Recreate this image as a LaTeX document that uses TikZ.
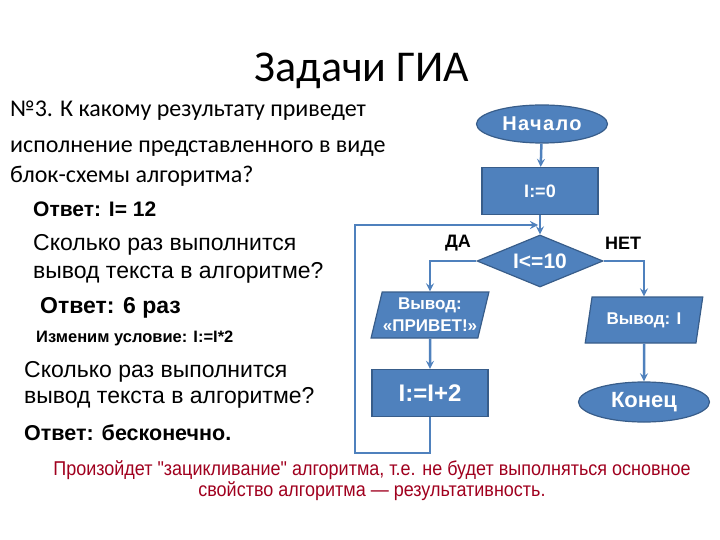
\documentclass[tikz,border=0pt]{standalone}
\usepackage{fontspec}
\setmainfont{Liberation Sans}
\newfontfamily\calibri{Carlito}
\newfontfamily\narrowfont[FakeStretch=0.9]{Liberation Sans}
\newfontfamily\spacedfont[LetterSpace=7]{Liberation Sans}
\usepackage{xcolor}
\usepackage{tikz}
\usetikzlibrary{shapes.geometric, arrows}

\definecolor{boxblue}{HTML}{4F81BD}
\definecolor{boxedge}{HTML}{385D8A}
\definecolor{loopred}{HTML}{A0001E}

\begin{document}
\begin{tikzpicture}[x=1pt, y=-1pt]
        % Define block styles with blue background
        \tikzstyle{startstop} = [ellipse, draw=boxedge, line width=1.2pt, fill=boxblue, inner sep=0pt,
                                 minimum width=131pt, minimum height=38pt, text=white, font=\bfseries\fontsize{22}{24}\selectfont]
        \tikzstyle{process} = [rectangle, draw=boxedge, line width=1.2pt, fill=boxblue,
                               minimum width=116pt, minimum height=47pt, text=white, font=\bfseries\fontsize{18}{20}\selectfont]
        \tikzstyle{decision} = [diamond, draw=boxedge, line width=1.2pt, fill=boxblue, aspect=2.4,
                                minimum width=126pt, minimum height=52pt, inner sep=0pt, text=white, font=\bfseries\fontsize{21}{22}\selectfont]
        \tikzstyle{io} = [trapezium, trapezium left angle=72, trapezium right angle=108, trapezium stretches=true,
                          draw=boxedge, line width=1.2pt, fill=boxblue, minimum width=118pt, minimum height=46pt, inner sep=0pt,
                          text=white, align=center, font=\bfseries\fontsize{17}{22}\selectfont]
        \tikzstyle{arrow} = [draw=boxblue, line width=2.5pt, ->, >=stealth]
        \tikzstyle{line} = [draw=boxblue, line width=2.5pt]
        \tikzstyle{textline} = [anchor=base west, inner sep=0pt]
        \tikzstyle{branch} = [font=\bfseries\fontsize{18}{20}\selectfont]

        \useasboundingbox (0,0) rectangle (720,540);

        % Title and question text
        \node (title) [anchor=base] at (362,82) {\calibri\fontsize{44}{50}\selectfont Задачи ГИА};
        \node (q1) [textline] at (10,117) {\calibri\fontsize{24}{26}\selectfont №3. К какому результату приведет};
        \node (q2) [textline] at (10,153) {\calibri\fontsize{24}{26}\selectfont исполнение представленного в виде};
        \node (q3) [textline] at (10,183) {\calibri\fontsize{24}{26}\selectfont блок-схемы алгоритма?};
        \node (a1) [textline] at (33,217) {\bfseries\fontsize{21}{24}\selectfont Ответ: I= 12};
        \node (q4) [textline] at (33,250) {\fontsize{23}{26}\selectfont Сколько раз выполнится};
        \node (q5) [textline] at (33,278) {\fontsize{23}{26}\selectfont вывод текста в алгоритме?};
        \node (a2) [textline] at (40,313) {\bfseries\fontsize{23}{26}\selectfont Ответ: 6 раз};
        \node (c1) [textline] at (36,342) {\bfseries\fontsize{16.5}{18}\selectfont Изменим условие: I:=I*2};
        \node (q6) [textline] at (24,377) {\fontsize{23}{26}\selectfont Сколько раз выполнится};
        \node (q7) [textline] at (24,403) {\fontsize{23}{26}\selectfont вывод текста в алгоритме?};
        \node (a3) [textline] at (24,440) {\bfseries\fontsize{21.5}{24}\selectfont Ответ: бесконечно.};
        \node (note) [align=center, text=loopred, font=\narrowfont\fontsize{20}{21}\selectfont] at (372,481)
              {Произойдет "зацикливание" алгоритма, т.е. не будет выполняться основное\\свойство алгоритма — результативность.};

        % Blocks of the flowchart
        \node (start) [startstop] at (542,124) {\spacedfont\fontsize{20}{22}\selectfont Начало};
        \node (init) [process] at (540,191) {I:=0};
        \node (check) [decision] at (540,261) {I<=10};
        \node (hello) [io] at (430,315) {Вывод:\\«ПРИВЕТ!»};
        \node (plus) [process, font=\bfseries\fontsize{24}{26}\selectfont] at (430,393) {I:=I+2};
        \node (outi) [io] at (644,320) {Вывод: I};
        \node (stop) [startstop, minimum height=40pt] at (644,402) {Конец};
        \node (yes) [branch] at (458,243) {ДА};
        \node (no) [branch] at (623,243) {НЕТ};
        \coordinate (loopbl) at (355,453);
        \coordinate (loopin) at (538,225);

        % Arrows
        \draw [arrow] (start) -- (init);
        \draw [arrow] (init) -- (check);
        \draw [arrow] (check.west) -| (hello.north);
        \draw [arrow] (hello) -- (plus);
        \draw [arrow] (plus.south) |- (loopbl) |- (loopin);
        \draw [arrow] (check.east) -| (outi.north);
        \draw [arrow] (outi) -- (stop);
    \end{tikzpicture}
\end{document}
